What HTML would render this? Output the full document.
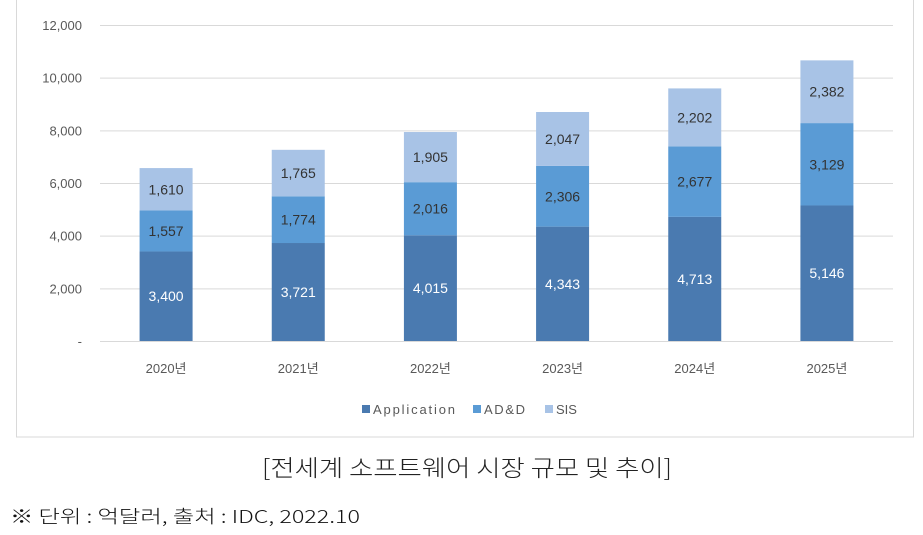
<!DOCTYPE html>
<html><head><meta charset="utf-8"><style>
body{margin:0;background:#fff;width:923px;height:535px;overflow:hidden;font-family:"Liberation Sans","Noto Sans CJK KR",sans-serif}
svg{position:absolute;left:0;top:0}
</style></head><body>
<svg width="923" height="535" id="c">
<rect x="16.5" y="-1" width="897" height="438" fill="#fff" stroke="#d9d9d9"/>
<g id="grid"></g><g id="bars"></g><g id="labels"></g>
<g font-size="13" fill="#595959">
<rect x="362" y="405" width="8" height="8" fill="#4a7ab0"/>
<text x="373" y="414" textLength="82">Application</text>
<rect x="473" y="405" width="8" height="8" fill="#5a9bd5"/>
<text x="484" y="414" textLength="41">AD&amp;D</text>
<rect x="545" y="405" width="8" height="8" fill="#a8c3e6"/>
<text x="556" y="414">SIS</text>
</g>
<text x="262" y="476" textLength="410" lengthAdjust="spacingAndGlyphs" font-size="23" fill="#222" font-family="'Noto Sans CJK KR',sans-serif" font-weight="300">[전세계 소프트웨어 시장 규모 및 추이]</text>
<text x="10" y="523" textLength="350" lengthAdjust="spacingAndGlyphs" font-size="18" fill="#111" font-family="'Noto Sans CJK KR',sans-serif" font-weight="300">※ 단위 : 억달러, 출처 : IDC, 2022.10</text>
</svg>
<script>
const categories=["2020년","2021년","2022년","2023년","2024년","2025년"];
const application=[3400,3721,4015,4343,4713,5146];
const add=[1557,1774,2016,2306,2677,3129];
const sis=[1610,1765,1905,2047,2202,2382];
const ticks=[0,2000,4000,6000,8000,10000,12000];
const tickLabels=["-","2,000","4,000","6,000","8,000","10,000","12,000"];
const NS="http://www.w3.org/2000/svg";
const x0=100,x1=893,yBase=341,yTop=25,maxV=12000;
const y=v=>yBase-(v/maxV)*(yBase-yTop);
const band=(x1-x0)/categories.length;
const cx=i=>x0+band*(i+0.5);
function mk(tag,attrs,parent,txt){const e=document.createElementNS(NS,tag);for(const k in attrs)e.setAttribute(k,attrs[k]);if(txt!==undefined)e.textContent=txt;document.getElementById(parent).appendChild(e);return e;}
ticks.forEach((t,i)=>{
 const l=mk('line',{x1:x0,x2:x1,y1:y(t)+0.5,y2:y(t)+0.5,stroke:'#d9d9d9'},'grid');
 
 
 const tx=mk('text',{x:82,y:y(t)+5,'text-anchor':'end','font-size':13,fill:'#595959'},'grid',tickLabels[i]);
 
 
});
const series=[[application,'#4a7ab0','#fff','application'],[add,'#5a9bd5','#333','add'],[sis,'#a8c3e6','#333','sis']];
categories.forEach((c,i)=>{
 let base=0;const w=53;
 series.forEach(([arr,col,tc,nm])=>{
  const v=arr[i];const yt=y(base+v),yb=y(base);
  const r=mk('rect',{x:cx(i)-w/2,y:yt,width:w,height:yb-yt,fill:col},'bars');
  
  
  const t=mk('text',{x:cx(i),y:(yt+yb)/2+5,'text-anchor':'middle','font-size':14,fill:tc},'labels',v.toLocaleString('en-US'));
  
  
  base+=v;
 });
 const xl=mk('text',{x:cx(i),y:373,'text-anchor':'middle','font-size':13,fill:'#595959'},'labels',c);
 
 
});
</script>
</body></html>
